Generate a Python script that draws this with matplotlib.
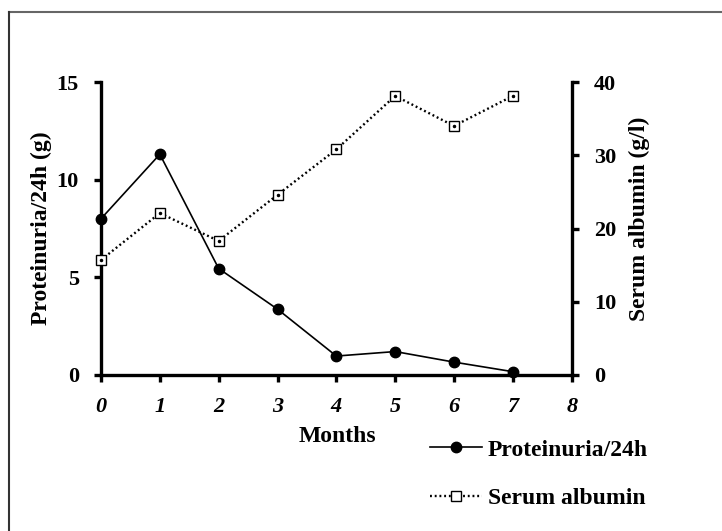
import matplotlib.pyplot as plt
from matplotlib.lines import Line2D

months = [0, 1, 2, 3, 4, 5, 6, 7]
proteinuria = [8.0, 11.3, 5.45, 3.37, 0.97, 1.2, 0.66, 0.17]   # g / 24h
albumin = [15.7, 22.1, 18.3, 24.6, 30.8, 38.1, 34.0, 38.1]      # g/l

x_ticks = [0, 1, 2, 3, 4, 5, 6, 7, 8]
left_ticks = [0, 5, 10, 15]
right_ticks = [0, 10, 20, 30, 40]

plt.rcParams['font.family'] = ['Liberation Serif', 'DejaVu Serif']
plt.rcParams['font.weight'] = 'bold'

fig = plt.figure(figsize=(7.22, 5.31), dpi=100)
ax = fig.add_axes([101/722, 1-375/531, (571.7-101)/722, (375-82)/531])
ax2 = ax.twinx()

# proteinuria, solid line with filled circles
ax.plot(months, proteinuria, '-', color='black', lw=1.2,
        marker='o', ms=7.5, mfc='black', mec='black', zorder=5, clip_on=False)

# serum albumin, dotted line with open squares (small dot in centre)
ax2.plot(months, albumin, color='black', lw=1.7, ls=(0, (0.8, 1.2)),
         marker='s', ms=6.5, mfc='white', mec='black', mew=1.0, clip_on=False)
ax2.plot(months, albumin, ls='none', marker='o', ms=1.5, color='black', clip_on=False)

ax.set_xlim(0, 8)
ax.set_ylim(0, 15)
ax2.set_ylim(0, 40)
ax.set_xticks(x_ticks)
ax.set_yticks(left_ticks)
ax2.set_yticks(right_ticks)

for a in (ax, ax2):
    for s in a.spines.values():
        s.set_linewidth(2.4)
    a.spines['top'].set_visible(False)
ax.spines['right'].set_visible(False)
ax2.spines['left'].set_visible(False)
ax2.spines['bottom'].set_visible(False)

ax.tick_params(axis='both', direction='out', length=5, width=2.4, pad=11, labelsize=16)
ax2.tick_params(axis='y', direction='out', length=5, width=2.4, pad=11, labelsize=16)
for t in ax.get_xticklabels():
    t.set_fontstyle('italic')
    t.set_fontweight('bold')

ax.set_ylabel('Proteinuria/24h (g)', fontsize=17, fontweight='bold', labelpad=3)
ax2.set_ylabel('Serum albumin (g/l)', fontsize=17, fontweight='bold')
ax2.yaxis.set_label_coords(1 + (629-571.7)/470.7, (375-219)/293)
fig.text(337/722, 1-437/531, 'Months', fontsize=17, fontweight='bold',
         ha='center', va='center')

handles = [
    Line2D([], [], color='black', lw=1.2, marker='o', ms=7.5),
    Line2D([], [], color='black', lw=1.7, ls=(0, (0.8, 1.2)), marker='s', ms=6.5,
           mfc='white', mew=1.0),
]
fig.legend(handles, ['Proteinuria/24h', 'Serum albumin'], loc='upper left',
           bbox_to_anchor=(430/722, 1-439/531), frameon=False, borderpad=0,
           borderaxespad=0, handlelength=2.2, handletextpad=0.25, labelspacing=1.15,
           prop={'size': 17, 'weight': 'bold'})

# partial frame of the original figure (top and left edges)
fig.add_artist(Line2D([9/722, 1], [1-12/531, 1-12/531], transform=fig.transFigure,
                      color='#666666', lw=1.5))
fig.add_artist(Line2D([9/722, 9/722], [0, 1-12/531], transform=fig.transFigure,
                      color='#333333', lw=1.5))

fig.savefig('out.png', dpi=100)
